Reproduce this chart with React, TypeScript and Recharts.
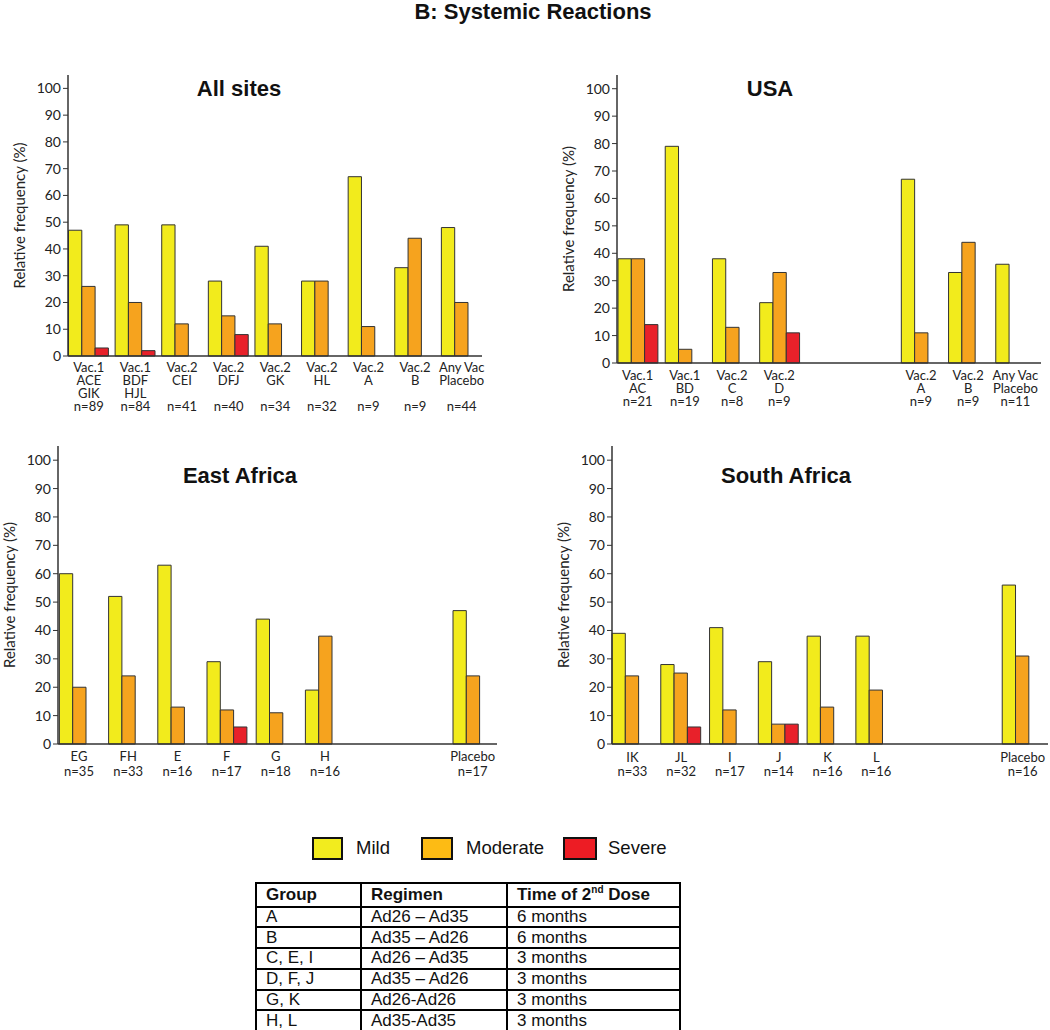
import React from "react";
import {Bar, BarChart, XAxis, YAxis} from "recharts";

// All sites
const allSitesGroups = [["Vac.1", "ACE", "GIK"], ["Vac.1", "BDF", "HJL"], ["Vac.2", "CEI"], ["Vac.2", "DFJ"], ["Vac.2", "GK"], ["Vac.2", "HL"], ["Vac.2", "A"], ["Vac.2", "B"], ["Any Vac", "Placebo"]];
const allSitesN = [89, 84, 41, 40, 34, 32, 9, 9, 44];
const allSitesMild = [47, 49, 49, 28, 41, 28, 67, 33, 48];
const allSitesModerate = [26, 20, 12, 15, 12, 28, 11, 44, 20];
const allSitesSevere = [3, 2, null, 8, null, null, null, null, null];

// USA (two empty slots between D and A)
const usaGroups = [["Vac.1", "AC"], ["Vac.1", "BD"], ["Vac.2", "C"], ["Vac.2", "D"], [], [], ["Vac.2", "A"], ["Vac.2", "B"], ["Any Vac", "Placebo"]];
const usaN = [21, 19, 8, 9, null, null, 9, 9, 11];
const usaMild = [38, 79, 38, 22, null, null, 67, 33, 36];
const usaModerate = [38, 5, 13, 33, null, null, 11, 44, null];
const usaSevere = [14, null, null, 11, null, null, null, null, null];

// East Africa
const eastAfricaGroups = [["EG"], ["FH"], ["E"], ["F"], ["G"], ["H"], [], [], ["Placebo"]];
const eastAfricaN = [35, 33, 16, 17, 18, 16, null, null, 17];
const eastAfricaMild = [60, 52, 63, 29, 44, 19, null, null, 47];
const eastAfricaModerate = [20, 24, 13, 12, 11, 38, null, null, 24];
const eastAfricaSevere = [null, null, null, 6, null, null, null, null, null];

// South Africa
const southAfricaGroups = [["IK"], ["JL"], ["I"], ["J"], ["K"], ["L"], [], [], ["Placebo"]];
const southAfricaN = [33, 32, 17, 14, 16, 16, null, null, 16];
const southAfricaMild = [39, 28, 41, 29, 38, 38, null, null, 56];
const southAfricaModerate = [24, 25, 12, 7, 13, 19, null, null, 31];
const southAfricaSevere = [null, 6, null, 7, null, null, null, null, null];

const yTicks = [0, 10, 20, 30, 40, 50, 60, 70, 80, 90, 100];

const regimenRows = [
    ["A", "Ad26 \u2013 Ad35", "6 months"],
    ["B", "Ad35 \u2013 Ad26", "6 months"],
    ["C, E, I", "Ad26 \u2013 Ad35", "3 months"],
    ["D, F, J", "Ad35 \u2013 Ad26", "3 months"],
    ["G, K", "Ad26-Ad26", "3 months"],
    ["H, L", "Ad35-Ad35", "3 months"],
];

const MILD = "#f2eb1c";
const MODERATE = "#f6a31e";
const SEVERE = "#e8212a";
const OUTLINE = "#333";
const AXIS = "#333";
const AXIS_FONT = "Lato, 'Open Sans', sans-serif";
const ARIAL = "'Liberation Sans', Arial, sans-serif";

interface PanelLayout {
    left: number;
    top: number;
    width: number;
    height: number;
    axisX: number;
    plotTop: number;
    plotBottom: number;
    plotRight: number;
    bandStart: number;
    bandEnd: number;
    rowStart: number;
    rowStep: number;
    nRow: number;
}

interface PanelProps {
    layout: PanelLayout;
    groups: string[][];
    n: (number | null)[];
    mild: (number | null)[];
    moderate: (number | null)[];
    severe: (number | null)[];
}

function YTitle(props: any) {
    const vb = props.viewBox || {x: 0, y: 0, width: 0, height: 0};
    const cx = vb.x + vb.width - 49;
    const cy = vb.y + vb.height / 2;
    return <text x={cx} y={cy} transform={`rotate(-90 ${cx} ${cy})`} textAnchor="middle"
                 dominantBaseline="central" fontFamily={AXIS_FONT} fontSize={15} fill="#222">
        Relative frequency (%)
    </text>;
}

function Panel(props: PanelProps) {
    const {layout, groups, n, mild, moderate, severe} = props;
    const data = groups.map((_, i) => ({key: "g" + i, mild: mild[i], moderate: moderate[i], severe: severe[i]}));

    const renderTick = (p: any) => {
        const i = Number(String(p.payload.value).slice(1));
        const lines = groups[i] || [];
        return <g>
            {lines.map((line, j) => (
                <text key={j} x={p.x} y={p.y + layout.rowStart + j * layout.rowStep} textAnchor="middle"
                      dominantBaseline="central" fontFamily={AXIS_FONT} fontSize={13} fill="#222">{line}</text>
            ))}
            {n[i] != null && (
                <text x={p.x} y={p.y + layout.rowStart + layout.nRow * layout.rowStep} textAnchor="middle"
                      dominantBaseline="central" fontFamily={AXIS_FONT} fontSize={13} fill="#222">n={n[i]}</text>
            )}
        </g>;
    };

    return <div style={{position: "absolute", left: layout.left, top: layout.top}}>
        <BarChart width={layout.width} height={layout.height} data={data} barGap={0} barSize={13.3}
                  margin={{
                      top: layout.plotTop - layout.top,
                      right: layout.left + layout.width - layout.plotRight,
                      bottom: 0,
                      left: 0
                  }}>
            <XAxis dataKey="key" interval={0} tickLine={false} tickSize={0} tickMargin={0}
                   height={layout.height - (layout.plotBottom - layout.top)}
                   padding={{left: layout.bandStart - layout.axisX, right: layout.plotRight - layout.bandEnd}}
                   axisLine={{stroke: AXIS, strokeWidth: 1.5}} tick={renderTick}/>
            <YAxis width={layout.axisX - layout.left} domain={[0, 105]} ticks={yTicks} interval={0}
                   tickSize={5} tickMargin={2} axisLine={{stroke: AXIS, strokeWidth: 1.5}}
                   tickLine={{stroke: AXIS, strokeWidth: 1}}
                   tick={{fill: "#222", fontSize: 14, fontFamily: AXIS_FONT}} label={<YTitle/>}/>
            <Bar dataKey="mild" fill={MILD} stroke={OUTLINE} strokeWidth={1} isAnimationActive={false}/>
            <Bar dataKey="moderate" fill={MODERATE} stroke={OUTLINE} strokeWidth={1} isAnimationActive={false}/>
            <Bar dataKey="severe" fill={SEVERE} stroke={OUTLINE} strokeWidth={1} isAnimationActive={false}/>
        </BarChart>
    </div>;
}

function Title(props: { x: number; y: number; text: string }) {
    return <div style={{
        position: "absolute", left: props.x, top: props.y, transform: "translate(-50%, -50%)",
        fontFamily: ARIAL, fontWeight: "bold", fontSize: 22, lineHeight: 1, whiteSpace: "nowrap", color: "#111"
    }}>{props.text}</div>;
}

function SeverityLegend() {
    const items = [
        {label: "Mild", color: "#f2ec1e", x: 312, w: 31, tx: 356},
        {label: "Moderate", color: "#fdbb14", x: 421, w: 32, tx: 466},
        {label: "Severe", color: "#ed1c24", x: 563, w: 34, tx: 608},
    ];
    return <>
        {items.map(it => (
            <React.Fragment key={it.label}>
                <div style={{
                    position: "absolute", left: it.x, top: 837, width: it.w, height: 23,
                    boxSizing: "border-box", border: "2px solid #111", background: it.color
                }}/>
                <div style={{
                    position: "absolute", left: it.tx, top: 848, transform: "translateY(-50%)",
                    fontFamily: ARIAL, fontSize: 18.5, lineHeight: 1, color: "#111"
                }}>{it.label}</div>
            </React.Fragment>
        ))}
    </>;
}

function RegimenTable() {
    const cell: React.CSSProperties = {
        border: "2.5px solid #000", padding: "0 0 0 9px", height: 18.8, lineHeight: "18px",
        textAlign: "left", verticalAlign: "middle", whiteSpace: "nowrap", boxSizing: "content-box"
    };
    return <table style={{
        position: "absolute", left: 255, top: 882, width: 424, borderCollapse: "collapse",
        fontFamily: ARIAL, fontSize: 17, color: "#111", tableLayout: "fixed"
    }}>
        <colgroup>
            <col style={{width: 105}}/>
            <col style={{width: 146}}/>
            <col style={{width: 173}}/>
        </colgroup>
        <thead>
        <tr>
            <th style={{...cell, height: 21.5}}>Group</th>
            <th style={{...cell, height: 21.5}}>Regimen</th>
            <th style={{...cell, height: 21.5}}>Time of 2<sup style={{fontSize: 10, lineHeight: 0}}>nd</sup> Dose</th>
        </tr>
        </thead>
        <tbody>
        {regimenRows.map(r => (
            <tr key={r[0]}>
                <td style={cell}>{r[0]}</td>
                <td style={cell}>{r[1]}</td>
                <td style={cell}>{r[2]}</td>
            </tr>
        ))}
        </tbody>
    </table>;
}

const allSitesLayout: PanelLayout = {
    left: 0, top: 60, width: 500, height: 360, axisX: 68, plotTop: 75, plotBottom: 356, plotRight: 482,
    bandStart: 65.5, bandEnd: 485, rowStart: 11, rowStep: 13, nRow: 3
};
const usaLayout: PanelLayout = {
    left: 520, top: 60, width: 530, height: 360, axisX: 617, plotTop: 75, plotBottom: 363, plotRight: 1041,
    bandStart: 614, bandEnd: 1039, rowStart: 12, rowStep: 13, nRow: 2
};
const eastAfricaLayout: PanelLayout = {
    left: 0, top: 440, width: 510, height: 350, axisX: 58, plotTop: 446, plotBottom: 744, plotRight: 497,
    bandStart: 54.4, bandEnd: 497.2, rowStart: 12, rowStep: 15, nRow: 1
};
const southAfricaLayout: PanelLayout = {
    left: 520, top: 440, width: 530, height: 350, axisX: 612, plotTop: 446, plotBottom: 744, plotRight: 1048,
    bandStart: 608, bandEnd: 1047, rowStart: 13, rowStep: 14, nRow: 1
};

export default function App() {
    return <div style={{position: "absolute", left: 0, top: 0, width: 1050, height: 1030, background: "#fff", overflow: "hidden"}}>
        <Title x={533} y={12} text="B: Systemic Reactions"/>
        <Panel layout={allSitesLayout} groups={allSitesGroups} n={allSitesN} mild={allSitesMild}
               moderate={allSitesModerate} severe={allSitesSevere}/>
        <Panel layout={usaLayout} groups={usaGroups} n={usaN} mild={usaMild}
               moderate={usaModerate} severe={usaSevere}/>
        <Panel layout={eastAfricaLayout} groups={eastAfricaGroups} n={eastAfricaN} mild={eastAfricaMild}
               moderate={eastAfricaModerate} severe={eastAfricaSevere}/>
        <Panel layout={southAfricaLayout} groups={southAfricaGroups} n={southAfricaN} mild={southAfricaMild}
               moderate={southAfricaModerate} severe={southAfricaSevere}/>
        <Title x={239} y={89} text="All sites"/>
        <Title x={770} y={89} text="USA"/>
        <Title x={240} y={476} text="East Africa"/>
        <Title x={786} y={476} text="South Africa"/>
        <SeverityLegend/>
        <RegimenTable/>
    </div>;
}
